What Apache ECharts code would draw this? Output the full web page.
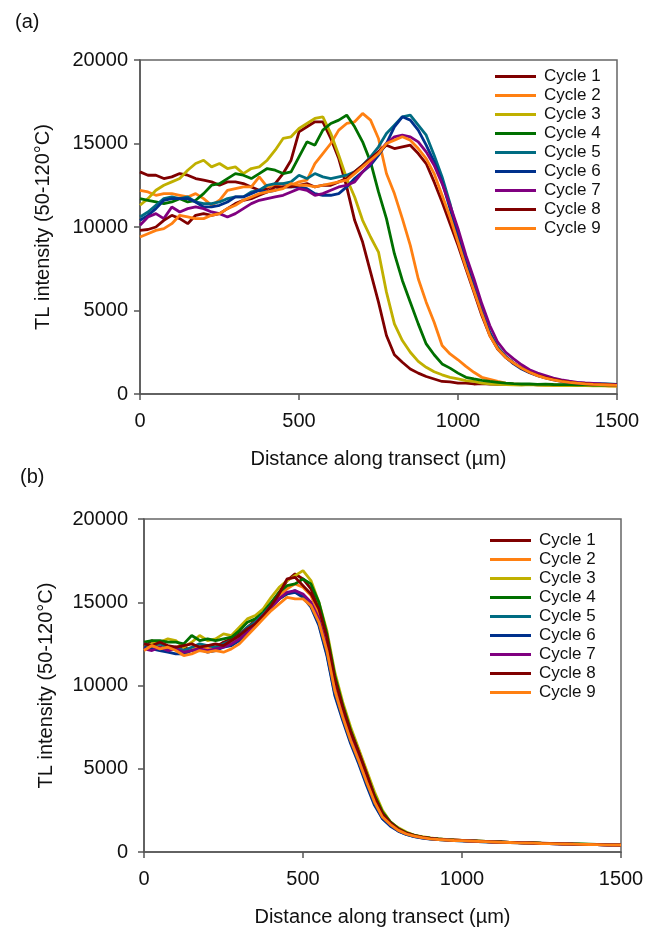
<!DOCTYPE html>
<html>
<head>
<meta charset="utf-8">
<script src="https://cdn.jsdelivr.net/npm/echarts@6/dist/echarts.min.js"></script>
<style>html,body{margin:0;padding:0;background:#fff;}#c{width:659px;height:930px;}</style>
</head>
<body>
<div id="c"></div>
<script>
const X = [0,25,50,75,100,125,150,175,200,225,250,275,300,325,350,375,400,425,450,475,500,525,550,575,600,625,650,675,700,725,750,775,800,825,850,875,900,925,950,975,1000,1025,1050,1075,1100,1125,1150,1175,1200,1225,1250,1275,1300,1325,1350,1375,1400,1425,1450,1475,1500];
const names = ['Cycle 1','Cycle 2','Cycle 3','Cycle 4','Cycle 5','Cycle 6','Cycle 7','Cycle 8','Cycle 9'];
const xTicks = [0,500,1000,1500];
const yTicks = [0,5000,10000,15000,20000];

// Panel (a)
const A1 = [13300,13100,13100,12900,13000,13200,13100,12900,12800,12700,12500,12700,12700,12600,12400,12200,12300,12600,13200,14000,15700,16000,16300,16300,15300,14100,12400,10400,9100,7300,5500,3500,2350,1900,1500,1250,1050,900,750,720,650,650,600,620,600,580,600,570,560,580,550,560,540,530,550,520,530,510,520,500,500];
const A2 = [12200,12100,11900,12000,12000,11900,11800,12000,11700,11300,11600,12200,12300,12400,12400,13000,12400,12500,12600,12500,12700,12800,13800,14400,15000,15800,16200,16300,16800,16400,15300,13200,12000,10500,8900,6900,5500,4300,2900,2400,2050,1650,1300,1000,880,750,650,600,580,560,570,550,540,520,530,510,520,500,510,490,480];
const A3 = [11300,11700,12200,12500,12700,12900,13400,13800,14000,13600,13800,13500,13600,13200,13500,13600,14000,14600,15300,15400,15900,16200,16500,16600,15600,14300,12900,11800,10400,9400,8500,6100,4200,3200,2500,1950,1600,1330,1150,1000,900,800,750,650,600,580,560,550,540,560,530,520,530,510,500,520,500,490,500,480,470];
const A4 = [11700,11600,11500,11400,11500,11700,11500,11600,12000,12500,12600,12900,13200,13100,12900,13200,13500,13400,13200,13300,14200,15100,14900,15800,16200,16400,16700,16000,15100,13900,12100,10500,8400,6800,5500,4200,3000,2350,1800,1550,1250,1000,900,820,750,700,650,620,600,600,580,590,570,560,570,550,560,540,550,530,520];
const A5 = [10600,10900,11300,11700,11800,11700,11800,11500,11400,11400,11500,11700,11800,11800,12100,12200,12500,12600,12600,12700,13100,12900,13200,13000,12900,13000,13100,13300,13700,14200,14800,15600,16100,16600,16700,16100,15500,14300,13000,11400,9500,7900,6500,5000,3700,2800,2250,1850,1550,1320,1150,1000,880,780,720,670,640,620,610,600,570];
const A6 = [10400,10700,11100,11600,11700,11700,11700,11500,11200,11200,11300,11500,11800,11800,12000,12200,12100,12200,12400,12400,12400,12300,12000,11900,11900,12000,12400,12900,13300,13700,14300,15000,16000,16600,16400,15800,14900,13900,12700,11100,9400,7800,6300,4900,3600,2700,2200,1800,1500,1280,1100,960,850,760,700,660,620,590,600,570,550];
const A7 = [10100,10600,10800,10500,11200,10900,11100,11200,11100,10900,10800,10600,10800,11100,11400,11600,11700,11800,11900,12100,12300,12200,11900,12000,12200,12400,12500,12700,13300,13800,14500,15000,15400,15500,15400,15100,14500,13700,12600,11300,9900,8300,6900,5400,4100,3100,2500,2100,1750,1450,1250,1100,950,850,770,700,660,630,600,580,560];
const A8 = [9800,9850,10000,10400,10700,10500,10200,10700,10800,10700,10800,11100,11400,11600,11700,11900,12100,12400,12400,12400,12500,12600,12400,12500,12500,12700,12900,13300,13700,14100,14500,14900,14700,14800,14900,14400,13800,12700,11500,10200,8900,7500,6100,4700,3500,2700,2200,1850,1550,1300,1120,980,870,780,710,650,620,580,570,550,530];
const A9 = [9400,9600,9800,9900,10200,10700,10600,10500,10500,10700,10800,11100,11300,11600,11800,12000,12100,12200,12300,12600,12500,12500,12400,12500,12600,12700,12800,13200,13600,14000,14400,15000,15200,15400,15200,14700,14100,13200,11900,10600,9100,7600,6200,4800,3500,2700,2200,1850,1550,1300,1100,950,850,760,700,650,610,580,560,540,520];

// Panel (b)
const B1 = [12300,12700,12300,12200,12300,12300,12100,12300,12400,12300,12600,12800,13100,13500,13900,14300,14900,15600,16300,16700,16400,15800,14700,13000,10500,8800,7300,6100,4700,3400,2400,1800,1400,1150,1000,900,830,780,740,720,700,680,650,640,610,600,580,570,550,540,530,510,500,490,480,460,450,440,440,430,420];
const B2 = [12400,12300,12500,12200,12300,12100,12200,12400,12200,12300,12400,12600,12900,13300,13800,14300,14800,15400,15800,16100,15900,15400,14300,12500,10000,8300,6900,5700,4400,3200,2200,1700,1350,1100,960,880,800,760,740,700,690,670,640,620,610,590,570,560,550,530,520,510,500,480,470,460,450,440,430,420,420];
const B3 = [12300,12500,12600,12800,12700,12300,12600,13000,12700,12800,13100,13000,13500,14000,14200,14600,15300,15900,16300,16600,16900,16300,15000,13300,10800,9000,7500,6200,4900,3600,2500,1800,1450,1200,1000,920,850,790,750,720,700,680,660,630,610,590,580,560,550,540,520,510,500,490,480,470,450,440,440,430,420];
const B4 = [12600,12700,12700,12600,12600,12500,13000,12700,12800,12700,12800,12900,13300,13800,14000,14400,15000,15600,16000,16100,16400,16100,15000,13100,10600,8800,7300,6000,4700,3400,2400,1800,1400,1150,1000,900,830,780,740,710,690,670,650,630,620,600,580,570,560,550,530,520,510,500,490,480,470,460,450,440,430];
const B5 = [12500,12400,12500,12300,12300,12100,12300,12500,12400,12300,12500,12700,13000,13500,13800,14300,14800,15200,15500,15700,15400,14800,13700,11900,9500,8000,6600,5400,4100,2900,2000,1600,1250,1050,920,850,790,750,720,690,670,660,630,610,600,580,570,560,540,530,520,500,490,480,470,460,450,440,430,420,410];
const B6 = [12300,12200,12100,12000,11900,11900,12100,12200,12000,12100,12300,12400,12700,13200,13700,14200,14700,15200,15500,15600,15300,14700,13600,11800,9400,7900,6500,5300,4000,2800,2000,1550,1250,1050,920,840,780,740,710,690,670,650,630,610,590,580,560,550,540,520,510,500,490,480,460,450,440,440,430,420,410];
const B7 = [12200,12100,12300,12100,12200,12000,12100,12200,12100,12200,12300,12500,12800,13200,13700,14200,14700,15200,15600,15700,15500,15000,14000,12300,9800,8200,6800,5600,4300,3100,2100,1650,1300,1100,950,860,800,760,730,700,680,660,640,620,600,590,570,560,550,530,520,500,490,480,470,460,450,440,430,420,420];
const B8 = [12500,12400,12600,12400,12300,12400,12500,12300,12400,12500,12400,12700,13000,13400,13700,14200,14800,15500,16400,16500,16000,15500,14600,12900,10400,8700,7200,6000,4700,3300,2300,1750,1380,1130,980,890,820,770,730,710,690,670,650,630,610,590,580,560,550,540,520,510,500,490,470,460,450,440,430,430,420];
const B9 = [12100,12400,12200,12300,12100,11800,11900,12100,12000,12100,12000,12200,12500,13000,13500,14000,14500,14900,15300,15200,15200,14800,13800,12100,9700,8100,6700,5500,4200,3000,2100,1650,1300,1080,950,860,790,750,720,690,680,660,640,620,600,580,570,550,540,530,510,500,490,480,470,460,450,440,430,420,420];

const colors = ['#7F0000','#FF8012','#C0B000','#007000','#006C82','#00318C','#800080','#800000','#FF8012'];
const A = [A1,A2,A3,A4,A5,A6,A7,A8,A9];
const B = [B1,B2,B3,B4,B5,B6,B7,B8,B9];

const chart = echarts.init(document.getElementById('c'), null, {renderer:'canvas'});
const FONT = 'Liberation Sans, Arial, sans-serif';
const plain = v => String(v);

function xAxisCfg(gi){
  return {
    type:'value', gridIndex:gi, min:xTicks[0], max:xTicks[xTicks.length-1], interval:xTicks[1]-xTicks[0],
    axisLine:{show:true, onZero:false, lineStyle:{color:'#555', width:1.5}},
    axisTick:{show:true, inside:false, length:6, lineStyle:{color:'#555', width:1.5}},
    axisLabel:{fontSize:20, color:'#111', margin:17, fontFamily:FONT, formatter:plain},
    splitLine:{show:false},
    name:'Distance along transect (µm)', nameLocation:'middle', nameGap:55,
    nameTextStyle:{fontSize:20, color:'#111', fontFamily:FONT}
  };
}
function yAxisCfg(gi, margin, gap){
  return {
    type:'value', gridIndex:gi, min:yTicks[0], max:yTicks[yTicks.length-1], interval:yTicks[1]-yTicks[0],
    axisLine:{show:true, onZero:false, lineStyle:{color:'#555', width:1.5}},
    axisTick:{show:true, inside:false, length:6, lineStyle:{color:'#555', width:1.5}},
    axisLabel:{fontSize:20, color:'#111', margin:margin, fontFamily:FONT, formatter:plain},
    splitLine:{show:false},
    name:'TL intensity (50-120°C)', nameLocation:'middle', nameGap:gap, nameRotate:90,
    nameTextStyle:{fontSize:20, color:'#111', fontFamily:FONT}
  };
}
function legendCfg(left, top){
  return {
    data:names, orient:'vertical', left:left, top:top, icon:'rect',
    itemWidth:41, itemHeight:3, itemGap:0, selectedMode:false, padding:0,
    textStyle:{fontSize:17, lineHeight:19, color:'#111', fontFamily:FONT, padding:[0,0,0,3]}
  };
}

const series = [];
A.forEach((arr,k)=>{
  series.push({name:names[k], type:'line', xAxisIndex:0, yAxisIndex:0, showSymbol:false, symbol:'none',
    lineStyle:{width:2.8, color:colors[k]}, itemStyle:{color:colors[k]},
    data:X.map((x,i)=>[x,arr[i]])});
});
B.forEach((arr,k)=>{
  series.push({name:names[k], type:'line', xAxisIndex:1, yAxisIndex:1, showSymbol:false, symbol:'none',
    lineStyle:{width:2.8, color:colors[k]}, itemStyle:{color:colors[k]},
    data:X.map((x,i)=>[x,arr[i]])});
});

chart.setOption({
  animation:false,
  backgroundColor:'#fff',
  grid:[
    {left:140, top:60, width:477, height:334, show:true, borderColor:'#666', borderWidth:1.5, backgroundColor:'transparent'},
    {left:144, top:519, width:477, height:333, show:true, borderColor:'#666', borderWidth:1.5, backgroundColor:'transparent'}
  ],
  xAxis:[xAxisCfg(0), xAxisCfg(1)],
  yAxis:[yAxisCfg(0,12,87), yAxisCfg(1,16,88)],
  legend:[legendCfg(495,67), legendCfg(490,531)],
  graphic:[
    {type:'text', left:15, top:12, style:{text:'(a)', fontSize:20, fill:'#111', fontFamily:FONT}},
    {type:'text', left:20, top:467, style:{text:'(b)', fontSize:20, fill:'#111', fontFamily:FONT}}
  ],
  series:series
});
</script>
</body>
</html>
